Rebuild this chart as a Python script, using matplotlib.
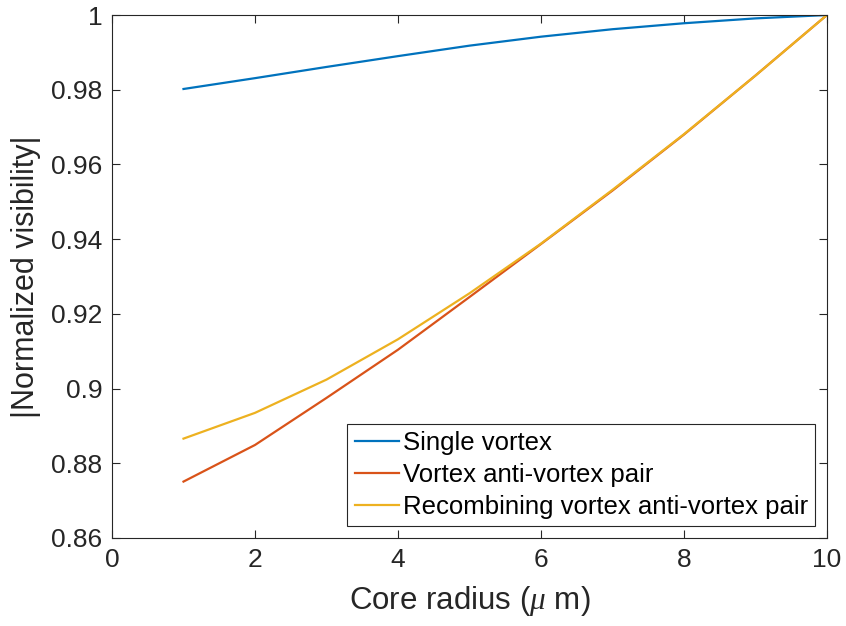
import matplotlib
matplotlib.use("Agg")
import matplotlib.pyplot as plt

plt.rcParams['font.family'] = ['Liberation Sans', 'DejaVu Sans']
plt.rcParams['mathtext.fontset'] = 'custom'
plt.rcParams['mathtext.it'] = 'Liberation Serif:italic'

# core radius in micrometres
radius = [1, 2, 3, 4, 5, 6, 7, 8, 9, 10]

# normalized visibility for each configuration
single = [0.9802, 0.9831, 0.9861, 0.9890, 0.9918, 0.9942, 0.9962, 0.9978, 0.9991, 1.0]
pair = [0.8751, 0.8849, 0.8975, 0.9104, 0.9245, 0.9387, 0.9530, 0.9680, 0.9838, 1.0]
recomb = [0.8866, 0.8935, 0.9024, 0.9132, 0.9255, 0.9388, 0.9532, 0.9681, 0.9838, 1.0]

labels = ['Single vortex', 'Vortex anti-vortex pair',
          'Recombining vortex anti-vortex pair']
colors = ['#0072BD', '#D95319', '#EDB120']

fig = plt.figure(figsize=(8.46, 6.26), dpi=100)
ax = fig.add_axes([0.1324, 0.1406, 0.8451, 0.8354])

for ys, lab, c in zip([single, pair, recomb], labels, colors):
    ax.plot(radius, ys, color=c, linewidth=1.6, label=lab)

ax.set_xlim(0, 10)
ax.set_ylim(0.86, 1.0)
ax.set_xticks([0, 2, 4, 6, 8, 10])
ax.set_yticks([0.86, 0.88, 0.9, 0.92, 0.94, 0.96, 0.98, 1.0])
ax.set_yticklabels(['0.86', '0.88', '0.9', '0.92', '0.94', '0.96', '0.98', '1'])

axis_col = '#262626'
for s in ax.spines.values():
    s.set_color(axis_col)
    s.set_linewidth(0.8)
ax.tick_params(direction='in', length=6, width=0.8, colors=axis_col,
               labelsize=19, top=True, right=True, pad=7)
ax.set_xlabel('Core radius ($\\mu$ m)', fontsize=22.5, color=axis_col, labelpad=9)
ax.set_ylabel('|Normalized visibility|', fontsize=22, color=axis_col, labelpad=7)

leg = ax.legend(loc='lower right', fontsize=18.5, fancybox=False, framealpha=1,
                edgecolor=axis_col, handlelength=1.7, handletextpad=0.15,
                borderpad=0.3, labelspacing=0.3, borderaxespad=0.45)
leg.get_frame().set_linewidth(0.8)

fig.savefig('out.png', dpi=100)
